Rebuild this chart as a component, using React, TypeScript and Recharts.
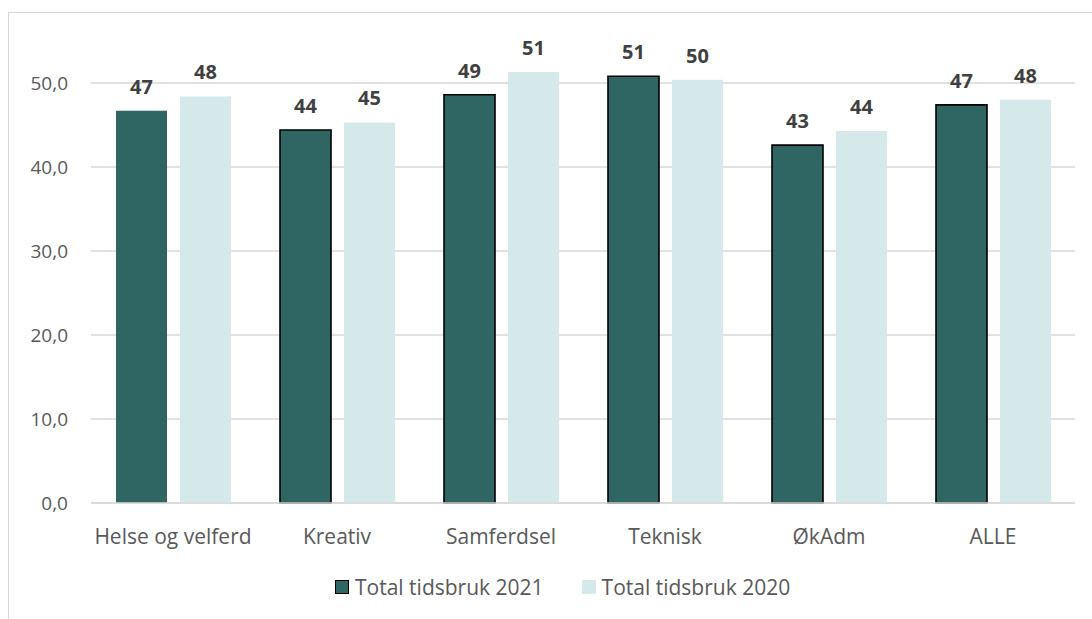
import React from "react";
import {
  BarChart,
  Bar,
  XAxis,
  YAxis,
  CartesianGrid,
  Legend,
  LabelList,
  Cell
} from "recharts";

// Kategorier og verdier (lest av figuren)
const categories = ["Helse og velferd", "Kreativ", "Samferdsel", "Teknisk", "ØkAdm", "ALLE"];
const tid2021 = [46.7, 44.4, 48.6, 50.8, 42.6, 47.4];
const tid2020 = [48.4, 45.3, 51.3, 50.4, 44.3, 48.0];
const yTicks = [0, 10, 20, 30, 40, 50];
const yMax = 60;
const seriesNames = ["Total tidsbruk 2021", "Total tidsbruk 2020"];
// Helse og velferd 2021 har ingen kantlinje i originalen
const outlined2021 = [false, true, true, true, true, true];

const data = categories.map((c, i) => ({
  name: c,
  t2021: tid2021[i],
  t2020: tid2020[i]
}));

const DARK = "#2F6664";
const LIGHT = "#D5E9EA";
const FONT = "'Open Sans', sans-serif";

const fmtAxis = (v: number) => v.toFixed(1).replace(".", ",");

const LegendContent = () => (
  <div style={{ display: "flex", alignItems: "center", fontFamily: FONT, fontSize: 21, lineHeight: "20px", color: "#595959" }}>
    <span style={{ width: 12, height: 12, background: DARK, border: "1.5px solid #000", marginRight: 6 }} />
    <span style={{ marginRight: 38 }}>{seriesNames[0]}</span>
    <span style={{ width: 14, height: 14, background: LIGHT, marginRight: 6 }} />
    <span>{seriesNames[1]}</span>
  </div>
);

const App: React.FC = () => {
  return (
    <div style={{ position: "absolute", left: 0, top: 0, width: 1092, height: 619, background: "#fff", overflow: "hidden" }}>
      <div
        style={{
          position: "absolute",
          left: 8,
          top: 12,
          width: 1084,
          height: 607,
          borderTop: "1px solid #D9D9D9",
          borderLeft: "1px solid #D9D9D9"
        }}
      />
      <BarChart
        width={1092}
        height={619}
        data={data}
        margin={{ top: -1, right: 17, left: 0, bottom: 76 }}
        barCategoryGap={25}
        barGap={13}
        style={{ position: "absolute", left: 0, top: 0, overflow: "hidden" }}
      >
        <CartesianGrid vertical={false} stroke="#D9D9D9" strokeWidth={1.3} />
        <XAxis
          dataKey="name"
          height={40}
          tickLine={false}
          axisLine={{ stroke: "#D9D9D9", strokeWidth: 1.3 }}
          tickMargin={20}
          tick={{ fill: "#595959", fontSize: 21, fontFamily: FONT }}
        />
        <YAxis
          width={91}
          domain={[0, yMax]}
          ticks={yTicks}
          tickFormatter={fmtAxis}
          axisLine={false}
          tickLine={false}
          tickMargin={17}
          tick={{ fill: "#595959", fontSize: 19, fontFamily: FONT }}
        />
        <Legend
          layout="horizontal"
          verticalAlign="middle"
          align="center"
          content={<LegendContent />}
          wrapperStyle={{ left: 335, top: 577, width: 520 }}
        />
        <Bar dataKey="t2021" name={seriesNames[0]} fill={DARK} isAnimationActive={false}>
          {data.map((d, i) => (
            <Cell
              key={d.name}
              fill={DARK}
              stroke={outlined2021[i] ? "#000" : "none"}
              strokeWidth={1.6}
            />
          ))}
          <LabelList
            dataKey="t2021"
            position="top"
            offset={17}
            formatter={(v: number) => Math.round(v)}
            style={{ fill: "#404040", fontSize: 20, fontWeight: 700, fontFamily: FONT }}
          />
        </Bar>
        <Bar dataKey="t2020" name={seriesNames[1]} fill={LIGHT} isAnimationActive={false}>
          <LabelList
            dataKey="t2020"
            position="top"
            offset={17}
            formatter={(v: number) => Math.round(v)}
            style={{ fill: "#404040", fontSize: 20, fontWeight: 700, fontFamily: FONT }}
          />
        </Bar>
      </BarChart>
    </div>
  );
};

export default App;
